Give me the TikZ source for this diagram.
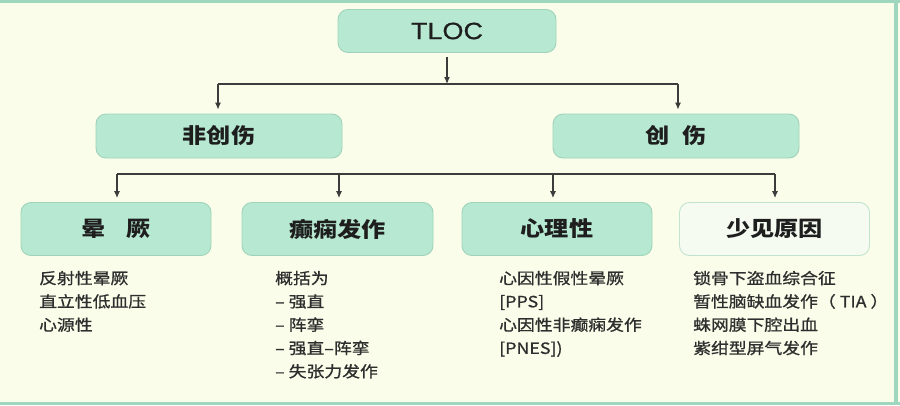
\documentclass[tikz,border=0pt]{standalone}
\usepackage{fontspec}
\setmainfont{Liberation Sans}
\newfontfamily\cjk[FakeStretch=1.15]{Noto Sans CJK SC}
\newfontfamily\cjkbody[FakeStretch=1.15,FakeBold=0.9]{Noto Sans CJK SC}
\newfontfamily\latinst[FakeStretch=1.15,FakeBold=0.6]{Liberation Sans}
\usetikzlibrary{arrows.meta}
\definecolor{bgcol}{HTML}{FAFDE9}
\definecolor{framecol}{HTML}{9ED6BE}
\definecolor{boxfill}{HTML}{B7E9D2}
\definecolor{boxline}{HTML}{9FD3BA}
\definecolor{palefill}{HTML}{F5FBF0}
\definecolor{paleline}{HTML}{C2E4CF}
\definecolor{linecol}{HTML}{3C3C3C}
\definecolor{txtcol}{HTML}{1E1E1E}
\definecolor{bodycol}{HTML}{2E2E2E}
\begin{document}
\begin{tikzpicture}[x=1pt,y=-1pt,
  box/.style={draw=boxline, fill=boxfill, line width=0.9pt, rounded corners=10pt,
    inner sep=0pt, text=txtcol, font=\cjk\bfseries\fontsize{21}{24}\selectfont},
  palebox/.style={box, draw=paleline, fill=palefill},
  conn/.style={draw=linecol, line width=1.1pt},
  arr/.style={conn, -{Latex[length=7pt,width=6pt]}},
  body/.style={anchor=base west, inner sep=0pt, text=bodycol,
    font=\cjkbody\fontsize{15.5}{18}\selectfont}]
% background and frame
\fill[bgcol] (0,0) rectangle (900,405);
\fill[framecol] (0,0) rectangle (900,3);
\fill[framecol] (894,0) rectangle (898,405);
\fill[framecol] (0,402) rectangle (900,405);
\useasboundingbox (0,0) rectangle (900,405);

% boxes
\node[box, minimum width=218pt, minimum height=43pt,
  font=\latinst\fontsize{23.5}{26}\selectfont] (tloc) at (447,31) {TLOC};
\node[box, minimum width=246pt, minimum height=44pt] (fei) at (219,136) {非创伤};
\node[box, minimum width=246pt, minimum height=44pt] (chuang) at (676,136) {创\hspace{13pt}伤};
\node[box, minimum width=190pt, minimum height=53pt] (yun) at (116,229) {晕\hspace{21pt}厥};
\node[box, minimum width=191pt, minimum height=53pt] (dian) at (337.5,229) {癫痫发作};
\node[box, minimum width=190pt, minimum height=53pt] (xin) at (557,229) {心理性};
\node[palebox, minimum width=190pt, minimum height=53pt] (shao) at (774.5,229) {少见原因};

% first level connectors
\coordinate (b1L) at (218,84);
\coordinate (b1R) at (678,84);
\draw[arr, shorten <=4pt] (tloc.south) -- (tloc.south |- b1L);
\draw[conn] (b1L) -- (b1R);
\draw[arr, shorten >=4pt] (b1L) -- (b1L |- fei.north);
\draw[arr, shorten >=4pt] (b1R) -- (b1R |- chuang.north);

% second level connectors
\coordinate (b2a) at (117,174);
\coordinate (b2b) at (339,174);
\coordinate (b2c) at (553,174);
\coordinate (b2d) at (775,174);
\draw[conn] (b2a) -- (b2d);
\draw[arr, shorten >=4pt] (b2a) -- (b2a |- yun.north);
\draw[arr, shorten >=4pt] (b2b) -- (b2b |- dian.north);
\draw[arr, shorten >=4pt] (b2c) -- (b2c |- xin.north);
\draw[arr, shorten >=4pt] (b2d) -- (b2d |- shao.north);

% body texts
\node[body] (y1) at (39,284) {反射性晕厥};
\node[body] (y2) at (39,307.3) {直立性低血压};
\node[body] (y3) at (39,330.6) {心源性};

\node[body] (d1) at (275,284) {概括为};
\node[body] (d2) at (275,307.3) {– 强直};
\node[body] (d3) at (275,330.6) {– 阵挛};
\node[body] (d4) at (275,353.9) {– 强直–阵挛};
\node[body] (d5) at (275,377.2) {– 失张力发作};

\node[body] (x1) at (499,284) {心因性假性晕厥};
\node[body] (x2) at (499,307.3) {[PPS]};
\node[body] (x3) at (499,330.6) {心因性非癫痫发作};
\node[body] (x4) at (499,353.9) {[PNES])};

\node[body] (s1) at (693,284) {锁骨下盗血综合征};
\node[body] (s2) at (693,307.3) {暂性脑缺血发作（ TIA ）};
\node[body] (s3) at (693,330.6) {蛛网膜下腔出血};
\node[body] (s4) at (693,353.9) {紫绀型屏气发作};
\end{tikzpicture}
\end{document}
